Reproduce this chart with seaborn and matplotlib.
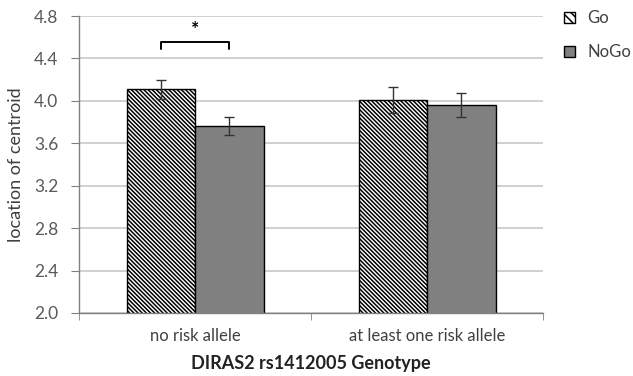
import numpy as np
import pandas as pd
import matplotlib
matplotlib.use('Agg')
import matplotlib.pyplot as plt
import seaborn as sns
from matplotlib.patches import Patch

genotypes = ['no risk allele', 'at least one risk allele']
conditions = ['Go', 'NoGo']
go_means = [4.11, 4.01]
nogo_means = [3.76, 3.96]
go_err = [0.09, 0.12]
nogo_err = [0.085, 0.11]
y_ticks = [2.0, 2.4, 2.8, 3.2, 3.6, 4.0, 4.4, 4.8]

df = pd.DataFrame({
    'genotype': genotypes * 2,
    'condition': ['Go'] * 2 + ['NoGo'] * 2,
    'centroid': go_means + nogo_means,
})
errs = {'Go': go_err, 'NoGo': nogo_err}

sns.set_style('white')
plt.rcParams['font.family'] = ['Lato', 'DejaVu Sans']
plt.rcParams['hatch.linewidth'] = 1.1

fig = plt.figure(figsize=(6.33, 3.76), dpi=100)
ax = fig.add_axes([0.125, 0.1676, 0.733, 0.7898])

hatch = '\\' * 8

sns.barplot(data=df, x='genotype', y='centroid', hue='condition',
            order=genotypes, hue_order=conditions,
            palette={'Go': 'white', 'NoGo': '#808080'},
            width=0.59, edgecolor='black', linewidth=1.0,
            legend=False, ax=ax)

for container, cond in zip(ax.containers, conditions):
    xs = [p.get_x() + p.get_width() / 2 for p in container]
    ys = [p.get_height() + p.get_y() for p in container]
    if cond == 'Go':
        for p in container:
            p.set_hatch(hatch)
    ax.errorbar(xs, ys, yerr=errs[cond], fmt='none', ecolor='#333333',
                elinewidth=1.0, capsize=3.5, capthick=1.0, zorder=5)

ax.set_ylim(2.0, 4.8)
ax.set_xlim(-0.5, 1.5)
ax.set_yticks(y_ticks)
ax.set_yticklabels([f'{v:.1f}' for v in y_ticks])
ax.yaxis.grid(True, color='#c8c8c8', linewidth=1.2)
ax.set_axisbelow(True)

ax.set_xticks([0, 1])
ax.set_xticklabels(genotypes)
ax.tick_params(axis='x', length=0, labelsize=12, colors='#404040', pad=11)
ax.set_xticks([-0.5, 0.5, 1.5], minor=True)
ax.tick_params(axis='x', which='minor', length=5, color='#808080', direction='out', bottom=True)
ax.tick_params(axis='y', length=6, color='#808080', direction='out', left=True,
               labelsize=12.5, colors='#595959', pad=9)

for s in ['top', 'right']:
    ax.spines[s].set_visible(False)
for s in ['left', 'bottom']:
    ax.spines[s].set_color('#808080')
    ax.spines[s].set_linewidth(1.0)

ax.set_xlabel('DIRAS2 rs1412005 Genotype', fontsize=13, fontweight='bold', color='#222222', labelpad=8)
ax.set_ylabel('location of centroid', fontsize=13, color='#404040', labelpad=7)

# significance bracket between the two bars of the first group
go_x = ax.containers[0][0].get_x() + ax.containers[0][0].get_width() / 2
nogo_x = ax.containers[1][0].get_x() + ax.containers[1][0].get_width() / 2
ax.plot([go_x, go_x, nogo_x, nogo_x],
        [4.49, 4.555, 4.555, 4.49], color='black', linewidth=1.4, clip_on=False)
ax.text((go_x + nogo_x) / 2, 4.59, '*', ha='center', va='bottom', fontsize=14,
        fontweight='bold', color='black')

handles = [Patch(facecolor='white', edgecolor='black', hatch='\\\\\\\\', label='Go'),
           Patch(facecolor='#808080', edgecolor='black', label='NoGo')]
leg = ax.legend(handles=handles, loc='upper left', bbox_to_anchor=(1.045, 1.02),
                frameon=False, fontsize=12, handlelength=0.65, handleheight=0.65,
                borderpad=0, borderaxespad=0,
                labelspacing=1.1, handletextpad=0.75, labelcolor='#404040')

fig.savefig('out.png', dpi=100)
